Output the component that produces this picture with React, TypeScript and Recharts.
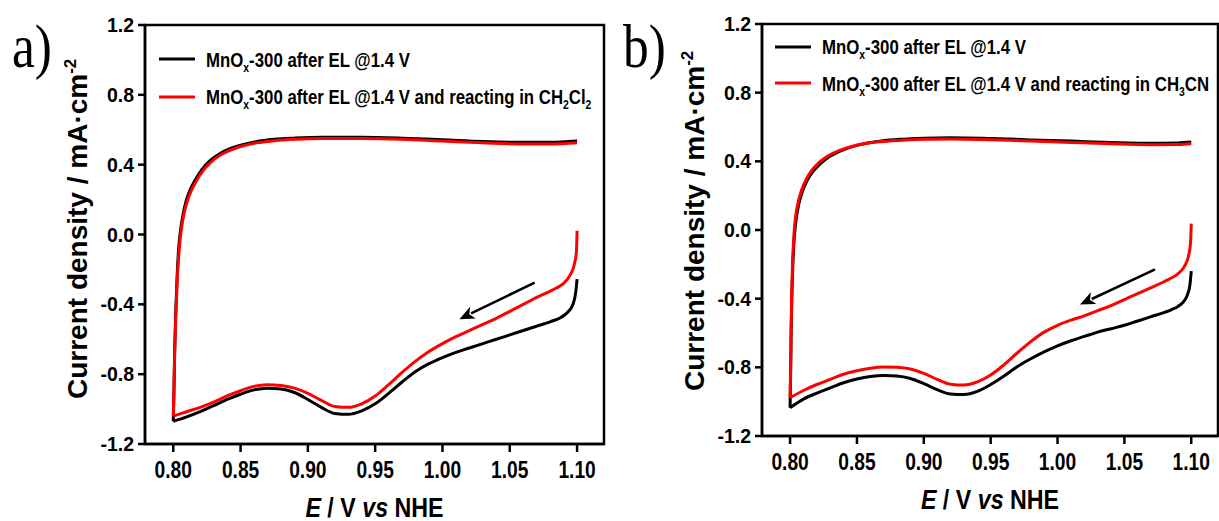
import React from 'react';
import { LineChart, Line, XAxis, YAxis, ReferenceArea, ReferenceLine, Legend, Label } from 'recharts';

// ---------- shared axis data ----------
const xTicks = [0.8, 0.85, 0.9, 0.95, 1.0, 1.05, 1.1];
const yTicks = [-1.2, -0.8, -0.4, 0.0, 0.4, 0.8, 1.2];
const xDomain = [0.779, 1.12];
const yDomain = [-1.2, 1.2];

const nameBlack = 'MnO_x-300 after EL @1.4 V';
const nameRedA = 'MnO_x-300 after EL @1.4 V and reacting in CH_2Cl_2';
const nameRedB = 'MnO_x-300 after EL @1.4 V and reacting in CH_3CN';

// ---------- panel a (E / V, j / mA cm-2) ----------
const aBlackLower = [[1.10,-0.256],[1.099,-0.33],[1.097,-0.40],[1.093,-0.445],[1.088,-0.475],[1.08,-0.50],[1.07,-0.525],[1.06,-0.55],[1.05,-0.575],[1.04,-0.60],[1.03,-0.625],[1.02,-0.65],[1.01,-0.675],[1.00,-0.705],[0.99,-0.74],[0.98,-0.785],[0.97,-0.845],[0.96,-0.91],[0.95,-0.97],[0.94,-1.01],[0.93,-1.03],[0.92,-1.025],[0.91,-0.99],[0.90,-0.945],[0.89,-0.905],[0.88,-0.885],[0.87,-0.88],[0.86,-0.89],[0.85,-0.915],[0.84,-0.945],[0.83,-0.98],[0.82,-1.015],[0.81,-1.045],[0.80,-1.07]];
const aBlackUpper = [[0.80,-1.07],[0.8005,-0.9],[0.801,-0.68],[0.8018,-0.45],[0.8028,-0.25],[0.804,-0.08],[0.8055,0.03],[0.8075,0.125],[0.8095,0.19],[0.8125,0.255],[0.8165,0.315],[0.8215,0.375],[0.8275,0.425],[0.8345,0.463],[0.8425,0.493],[0.8515,0.515],[0.8615,0.532],[0.875,0.545],[0.89,0.552],[0.91,0.557],[0.94,0.557],[0.97,0.552],[1.0,0.543],[1.03,0.533],[1.06,0.528],[1.08,0.528],[1.10,0.535]];
const aRedLower = [[1.10,0.021],[1.0995,-0.10],[1.098,-0.17],[1.095,-0.23],[1.09,-0.28],[1.085,-0.305],[1.08,-0.325],[1.07,-0.36],[1.06,-0.40],[1.05,-0.44],[1.04,-0.48],[1.03,-0.515],[1.02,-0.55],[1.01,-0.585],[1.00,-0.625],[0.99,-0.67],[0.98,-0.725],[0.97,-0.79],[0.96,-0.86],[0.95,-0.925],[0.94,-0.97],[0.93,-0.99],[0.92,-0.985],[0.91,-0.95],[0.90,-0.91],[0.89,-0.88],[0.88,-0.865],[0.87,-0.86],[0.86,-0.87],[0.85,-0.895],[0.84,-0.925],[0.83,-0.96],[0.82,-0.99],[0.81,-1.015],[0.80,-1.04]];
const aRedUpper = [[0.80,-1.04],[0.8005,-0.9],[0.801,-0.7],[0.802,-0.45],[0.803,-0.25],[0.8045,-0.08],[0.806,0.03],[0.808,0.12],[0.81,0.18],[0.813,0.245],[0.817,0.305],[0.822,0.365],[0.828,0.415],[0.835,0.455],[0.843,0.485],[0.852,0.508],[0.862,0.525],[0.875,0.537],[0.89,0.545],[0.91,0.55],[0.94,0.55],[0.97,0.545],[1.0,0.535],[1.03,0.525],[1.06,0.518],[1.08,0.518],[1.10,0.525]];
const aArrow = [[1.0685,-0.275],[1.0126,-0.485]];

// ---------- panel b ----------
const bBlackLower = [[1.10,-0.24],[1.099,-0.32],[1.097,-0.38],[1.094,-0.42],[1.09,-0.445],[1.085,-0.465],[1.08,-0.48],[1.07,-0.505],[1.06,-0.53],[1.05,-0.555],[1.04,-0.575],[1.03,-0.595],[1.02,-0.62],[1.01,-0.645],[1.00,-0.675],[0.99,-0.71],[0.98,-0.75],[0.97,-0.795],[0.96,-0.85],[0.95,-0.90],[0.94,-0.94],[0.93,-0.958],[0.92,-0.955],[0.91,-0.93],[0.90,-0.895],[0.89,-0.865],[0.88,-0.85],[0.87,-0.847],[0.86,-0.853],[0.85,-0.868],[0.84,-0.89],[0.83,-0.92],[0.82,-0.95],[0.81,-0.985],[0.80,-1.035]];
const bBlackUpper = [[0.80,-1.035],[0.8004,-0.85],[0.8008,-0.6],[0.8013,-0.4],[0.802,-0.22],[0.803,-0.06],[0.8045,0.06],[0.8065,0.15],[0.809,0.22],[0.8125,0.285],[0.817,0.34],[0.8225,0.385],[0.829,0.425],[0.837,0.458],[0.846,0.484],[0.856,0.504],[0.868,0.518],[0.882,0.528],[0.90,0.535],[0.92,0.538],[0.95,0.533],[0.98,0.525],[1.01,0.518],[1.04,0.51],[1.07,0.505],[1.09,0.507],[1.10,0.512]];
const bRedLower = [[1.10,0.037],[1.0995,-0.07],[1.098,-0.15],[1.095,-0.21],[1.09,-0.255],[1.085,-0.28],[1.08,-0.30],[1.07,-0.335],[1.06,-0.37],[1.05,-0.405],[1.04,-0.44],[1.03,-0.47],[1.02,-0.50],[1.01,-0.525],[1.00,-0.555],[0.99,-0.595],[0.98,-0.65],[0.97,-0.715],[0.96,-0.785],[0.95,-0.845],[0.94,-0.885],[0.93,-0.903],[0.92,-0.898],[0.91,-0.87],[0.90,-0.835],[0.89,-0.81],[0.88,-0.80],[0.87,-0.798],[0.86,-0.805],[0.85,-0.82],[0.84,-0.84],[0.83,-0.87],[0.82,-0.90],[0.81,-0.935],[0.80,-0.977]];
const bRedUpper = [[0.80,-0.977],[0.8004,-0.8],[0.8008,-0.55],[0.8012,-0.38],[0.8018,-0.2],[0.8027,-0.05],[0.804,0.07],[0.806,0.16],[0.8085,0.23],[0.812,0.295],[0.8165,0.35],[0.822,0.395],[0.8285,0.432],[0.8365,0.462],[0.8455,0.485],[0.855,0.502],[0.867,0.514],[0.881,0.522],[0.90,0.528],[0.92,0.53],[0.95,0.526],[0.98,0.518],[1.01,0.51],[1.04,0.502],[1.07,0.497],[1.09,0.498],[1.10,0.502]];
const bArrow = [[1.0729,-0.23],[1.0168,-0.434]];

const toPts = (arr: number[][]) => arr.map(([E, j]) => ({ E, j }));

const FONT = "'Liberation Sans', Arial, sans-serif";

const renderName = (name: string) => {
  const parts = name.split(/_(\w)/);
  return parts.map((p, i) =>
    i % 2 === 1 ? (
      <sub key={i} style={{ fontSize: 13, verticalAlign: '-5px', lineHeight: 0 }}>{p}</sub>
    ) : (
      <React.Fragment key={i}>{p}</React.Fragment>
    )
  );
};

const XTick = (props: any) => {
  const { x, y, payload } = props;
  return (
    <g transform={`translate(${x},${y}) scale(0.8,1)`}>
      <text x={0} y={24} textAnchor="middle" fontSize={24} fontWeight="bold" fontFamily={FONT} fill="#000">
        {Number(payload.value).toFixed(2)}
      </text>
    </g>
  );
};

const YTick = (props: any) => {
  const { x, y, payload } = props;
  return (
    <text x={x - 2} y={y + 7} textAnchor="end" fontSize={19.5} fontWeight="bold" fontFamily={FONT} fill="#000">
      {Number(payload.value).toFixed(1)}
    </text>
  );
};

const XTitle = (props: any) => {
  const vb = props.viewBox || {};
  const cx = vb.x + vb.width / 2;
  const by = vb.y + 73;
  return (
    <g transform={`translate(${cx},${by}) scale(0.83,1)`}>
      <text x={0} y={0} textAnchor="middle" fontSize={28} fontWeight="bold" fontFamily={FONT} fill="#000">
        <tspan fontStyle="italic">E</tspan>
        <tspan> / V </tspan>
        <tspan fontStyle="italic">vs</tspan>
        <tspan> NHE</tspan>
      </text>
    </g>
  );
};

const YTitle = (props: any) => {
  const vb = props.viewBox || {};
  const bx = vb.x + vb.width - 58;
  const by = vb.y + vb.height - 45;
  return (
    <text
      transform={`translate(${bx},${by}) rotate(-90)`}
      x={0}
      y={0}
      textAnchor="start"
      fontSize={28}
      fontWeight="bold"
      fontFamily={FONT}
      fill="#000"
    >
      Current density / mA·cm
      <tspan dy={-11} fontSize={17}>-2</tspan>
    </text>
  );
};

const Arrow = (props: any) => {
  const { x1, y1, x2, y2 } = props;
  if ([x1, y1, x2, y2].some((v) => typeof v !== 'number' || isNaN(v))) return null;
  const ang = Math.atan2(y2 - y1, x2 - x1);
  const L = 15;
  const W = 6.5;
  const bx = x2 - L * Math.cos(ang);
  const by = y2 - L * Math.sin(ang);
  const px = -Math.sin(ang) * W;
  const py = Math.cos(ang) * W;
  return (
    <g>
      <line x1={x1} y1={y1} x2={bx + 2 * Math.cos(ang)} y2={by + 2 * Math.sin(ang)} stroke="#000" strokeWidth={2.5} />
      <polygon points={`${x2},${y2} ${bx + px},${by + py} ${bx + 4 * Math.cos(ang)},${by + 4 * Math.sin(ang)} ${bx - px},${by - py}`} fill="#000" />
    </g>
  );
};

const makeLegend = (rowH: number) => (props: any) => {
  const items = (props.payload || []).filter((p: any) => p.type !== 'none');
  return (
    <div style={{ fontFamily: FONT }}>
      {items.map((it: any, i: number) => (
        <div key={i} style={{ display: 'flex', alignItems: 'center', height: rowH, whiteSpace: 'nowrap' }}>
          <svg width={36} height={6} style={{ flex: 'none' }}>
            <line x1={0} y1={3} x2={36} y2={3} stroke={it.color} strokeWidth={3} />
          </svg>
          <span
            style={{
              marginLeft: 11,
              display: 'inline-block',
              fontSize: 21,
              lineHeight: '21px',
              fontWeight: 'bold',
              color: '#000',
              transform: 'scaleX(0.8)',
              transformOrigin: 'left center',
            }}
          >
            {renderName(it.value)}
          </span>
        </div>
      ))}
    </div>
  );
};

type PanelProps = {
  width: number;
  margin: { top: number; right: number; bottom: number; left: number };
  blackLower: number[][];
  blackUpper: number[][];
  redLower: number[][];
  redUpper: number[][];
  arrow: number[][];
  redName: string;
  legendLeft: number;
  legendTop: number;
  rowH: number;
};

const Panel = (p: PanelProps) => (
  <LineChart width={p.width} height={521} margin={p.margin}>
    <XAxis
      dataKey="E"
      type="number"
      domain={xDomain}
      ticks={xTicks}
      allowDataOverflow
      axisLine={{ stroke: '#000', strokeWidth: 2.5 }}
      tickLine={{ stroke: '#000', strokeWidth: 2.5 }}
      tickSize={8}
      tick={<XTick />}
      height={50}
      interval={0}
    >
      <Label content={<XTitle />} />
    </XAxis>
    <YAxis
      dataKey="j"
      type="number"
      domain={yDomain}
      ticks={yTicks}
      allowDataOverflow
      axisLine={{ stroke: '#000', strokeWidth: 2.5 }}
      tickLine={{ stroke: '#000', strokeWidth: 2.5 }}
      tickSize={7}
      tick={<YTick />}
      width={60}
      interval={0}
    >
      <Label content={<YTitle />} />
    </YAxis>
    <ReferenceArea
      x1={xDomain[0]}
      x2={xDomain[1]}
      y1={yDomain[0]}
      y2={yDomain[1]}
      fill="none"
      fillOpacity={0}
      stroke="#000"
      strokeWidth={2.5}
      ifOverflow="visible"
    />
    <Line data={toPts(p.blackLower)} dataKey="j" name={nameBlack} type="monotone" stroke="#000" strokeWidth={3} strokeLinejoin="round" dot={false} activeDot={false} isAnimationActive={false} />
    <Line data={toPts(p.blackUpper)} dataKey="j" name={nameBlack + ' up'} legendType="none" type="monotone" stroke="#000" strokeWidth={3} strokeLinejoin="round" dot={false} activeDot={false} isAnimationActive={false} />
    <Line data={toPts(p.redLower)} dataKey="j" name={p.redName} type="monotone" stroke="#ff0000" strokeWidth={3} strokeLinejoin="round" dot={false} activeDot={false} isAnimationActive={false} />
    <Line data={toPts(p.redUpper)} dataKey="j" name={p.redName + ' up'} legendType="none" type="monotone" stroke="#ff0000" strokeWidth={3} strokeLinejoin="round" dot={false} activeDot={false} isAnimationActive={false} />
    <ReferenceLine
      segment={[{ x: p.arrow[0][0], y: p.arrow[0][1] }, { x: p.arrow[1][0], y: p.arrow[1][1] }]}
      stroke="#000"
      shape={(sp: any) => <Arrow {...sp} />}
      ifOverflow="visible"
    />
    <Legend
      layout="vertical"
      align="center"
      verticalAlign="middle"
      content={makeLegend(p.rowH)}
      wrapperStyle={{ left: p.legendLeft, top: p.legendTop, width: 480, height: 'auto' }}
    />
  </LineChart>
);

export default function App() {
  return (
    <div style={{ position: 'absolute', left: 0, top: 0, width: 1219, height: 521, background: '#fff', overflow: 'hidden' }}>
      <div style={{ position: 'absolute', left: 0, top: 0 }}>
        <Panel
          width={620}
          margin={{ top: 25, right: 16, bottom: 27, left: 85 }}
          blackLower={aBlackLower}
          blackUpper={aBlackUpper}
          redLower={aRedLower}
          redUpper={aRedUpper}
          arrow={aArrow}
          redName={nameRedA}
          legendLeft={159}
          legendTop={40.5}
          rowH={37.5}
        />
      </div>
      <div style={{ position: 'absolute', left: 610, top: 0 }}>
        <Panel
          width={609}
          margin={{ top: 24, right: 1, bottom: 35, left: 92 }}
          blackLower={bBlackLower}
          blackUpper={bBlackUpper}
          redLower={bRedLower}
          redUpper={bRedUpper}
          arrow={bArrow}
          redName={nameRedB}
          legendLeft={165}
          legendTop={28.4}
          rowH={36.6}
        />
      </div>
      <svg width={1219} height={521} style={{ position: 'absolute', left: 0, top: 0, pointerEvents: 'none' }}>
        <g transform="translate(12,67) scale(0.83,1)">
          <text x={0} y={0} fontSize={62} fontFamily="'Liberation Serif', 'Times New Roman', serif" fill="#000">a)</text>
        </g>
        <g transform="translate(623,67) scale(0.83,1)">
          <text x={0} y={0} fontSize={62} fontFamily="'Liberation Serif', 'Times New Roman', serif" fill="#000">b)</text>
        </g>
      </svg>
    </div>
  );
}
